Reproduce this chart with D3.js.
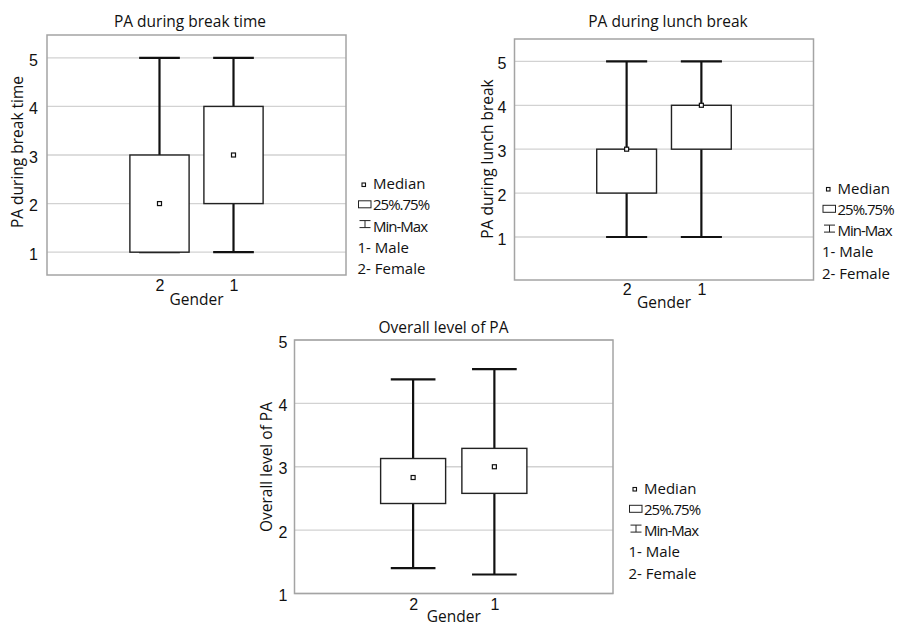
<!DOCTYPE html>
<html>
<head>
<meta charset="utf-8">
<script src="https://d3js.org/d3.v7.min.js"></script>
<style>
    body { margin: 0; background: #fff; }
    svg { display: block; font-family: "Open Sans", sans-serif; }
</style>
</head>
<body>
<div id="chart"></div>
<script>
// groups on the x axis (2 = Female, 1 = Male)
const groups = ["2", "1"];
// [min, q1, median, q3, max] per group
const breakTime = [[1, 1, 2, 3, 5], [1, 2, 3, 4, 5]];
const lunchBreak = [[1, 2, 3, 3, 5], [1, 3, 4, 4, 5]];
const overallPA = [[1.40, 2.42, 2.83, 3.13, 4.38], [1.30, 2.58, 3.00, 3.29, 4.54]];
const yTicks = [1, 2, 3, 4, 5];
const legendLabels = ["Median", "25%.75%", "Min-Max", "1- Male", "2- Female"];

const textColor = "#111";

class BoxPlotPanel {

    constructor(svg, stats, opts) {
        this.svg = svg;
        this.stats = stats;
        this.opts = opts;
        this.initVis();
    }

    initVis() {
        let vis = this;
        let o = vis.opts;

        vis.g = vis.svg.append("g")
            .attr("transform", "translate(" + o.left + "," + o.top + ")");

        // scales
        vis.x = d3.scalePoint()
            .domain(groups)
            .range([0, o.width])
            .padding(o.xPadding);

        vis.y = d3.scaleLinear()
            .domain(o.yDomain)
            .range([o.height, 0]);

        // gridlines
        vis.g.selectAll(".grid")
            .data(yTicks)
            .enter().append("line")
            .attr("class", "grid")
            .attr("x1", 0)
            .attr("x2", o.width)
            .attr("y1", d => vis.y(d))
            .attr("y2", d => vis.y(d))
            .attr("stroke", "#d2d2d2")
            .attr("stroke-width", 1.3);

        // frame
        vis.g.append("rect")
            .attr("width", o.width)
            .attr("height", o.height)
            .attr("fill", "none")
            .attr("stroke", "#a4a4a4")
            .attr("stroke-width", 1.5);

        // axes
        let yAxis = d3.axisLeft(vis.y)
            .tickValues(yTicks)
            .tickSize(0)
            .tickPadding(o.yPad)
            .tickFormat(d3.format("d"));
        vis.g.append("g").call(yAxis)
            .call(g => g.select(".domain").remove())
            .selectAll("text")
            .attr("dy", "0.45em")
            .attr("font-size", 16)
            .attr("fill", textColor);

        let xAxis = d3.axisBottom(vis.x)
            .tickSize(0)
            .tickPadding(o.xPad);
        vis.g.append("g")
            .attr("transform", "translate(0," + o.height + ")")
            .call(xAxis)
            .call(g => g.select(".domain").remove())
            .selectAll("text")
            .attr("font-size", 16)
            .attr("fill", textColor);

        vis.step = vis.x.step();
        vis.boxW = vis.step * 0.8;
        vis.capW = vis.step * 0.55;

        vis.updateVis();
        vis.drawLabels();
    }

    updateVis() {
        let vis = this;

        let items = vis.g.selectAll(".item")
            .data(vis.stats)
            .enter().append("g")
            .attr("class", "item")
            .attr("transform", (d, i) => "translate(" + vis.x(groups[i]) + ",0)");

        // whiskers
        items.append("line")
            .attr("y1", d => vis.y(d[0]))
            .attr("y2", d => vis.y(d[4]))
            .attr("stroke", "#111")
            .attr("stroke-width", 2.2);

        // caps
        [0, 4].forEach(k => {
            items.append("line")
                .attr("x1", -vis.capW / 2)
                .attr("x2", vis.capW / 2)
                .attr("y1", d => vis.y(d[k]))
                .attr("y2", d => vis.y(d[k]))
                .attr("stroke", "#111")
                .attr("stroke-width", 2.2);
        });

        // 25%-75% box
        items.append("rect")
            .attr("x", -vis.boxW / 2)
            .attr("width", vis.boxW)
            .attr("y", d => vis.y(d[3]))
            .attr("height", d => vis.y(d[1]) - vis.y(d[3]))
            .attr("fill", "#fff")
            .attr("stroke", "#222")
            .attr("stroke-width", 1.4);

        // median marker
        items.append("rect")
            .attr("x", -2)
            .attr("y", d => vis.y(d[2]) - 2)
            .attr("width", 4)
            .attr("height", 4)
            .attr("fill", "#fff")
            .attr("stroke", "#111")
            .attr("stroke-width", 1.2);
    }

    drawLabels() {
        let vis = this;
        let o = vis.opts;

        vis.svg.append("text")
            .attr("x", o.titleX)
            .attr("y", o.titleY)
            .attr("text-anchor", "middle")
            .attr("font-size", 15.5)
            .attr("fill", textColor)
            .text(o.title);

        vis.svg.append("text")
            .attr("transform", "translate(" + o.yLabelX + "," + o.yLabelY + ") rotate(-90)")
            .attr("text-anchor", "middle")
            .attr("font-size", 15.5)
            .attr("fill", textColor)
            .text(o.title);

        vis.svg.append("text")
            .attr("x", o.left + o.width / 2)
            .attr("y", o.genderY)
            .attr("text-anchor", "middle")
            .attr("font-size", 15.5)
            .attr("fill", textColor)
            .text("Gender");

        // legend
        let lg = vis.svg.append("g")
            .attr("transform", "translate(" + o.legendX + "," + o.legendY + ")");
        let rowH = 21.3;

        lg.selectAll("text")
            .data(legendLabels)
            .enter().append("text")
            .attr("x", (d, i) => i < 3 ? 15.5 : 0)
            .attr("y", (d, i) => i * rowH)
            .attr("font-size", 15)
            .attr("letter-spacing", (d, i) => (i === 1 || i === 2) ? -1 : 0)
            .attr("fill", textColor)
            .text(d => d);

        // median symbol
        lg.append("rect")
            .attr("x", 4.5).attr("y", -6)
            .attr("width", 3.5).attr("height", 3.5)
            .attr("fill", "#fff").attr("stroke", "#111").attr("stroke-width", 1.1);

        // 25%-75% symbol
        lg.append("rect")
            .attr("x", 1).attr("y", rowH - 9.5)
            .attr("width", 12.5).attr("height", 7)
            .attr("fill", "#fff").attr("stroke", "#222").attr("stroke-width", 1);

        // min-max symbol
        let iy = 2 * rowH;
        lg.append("path")
            .attr("d", "M2," + (iy - 11) + "H13M7.5," + (iy - 11) + "V" + (iy - 4) + "M2," + (iy - 4) + "H13")
            .attr("fill", "none").attr("stroke", "#222").attr("stroke-width", 1);
    }
}

let svg = d3.select("#chart").append("svg")
    .attr("width", 900)
    .attr("height", 623);

new BoxPlotPanel(svg, breakTime, {
    title: "PA during break time",
    left: 47, top: 35, width: 299, height: 240,
    yDomain: [0.53, 5.47], xPadding: 1.52,
    yPad: 9, xPad: 5,
    titleX: 190, titleY: 27,
    yLabelX: 23, yLabelY: 152,
    genderY: 305,
    legendX: 357.5, legendY: 189
});

new BoxPlotPanel(svg, lunchBreak, {
    title: "PA during lunch break",
    left: 514.5, top: 39, width: 299, height: 241,
    yDomain: [0.02, 5.51], xPadding: 1.5,
    yPad: 8, xPad: 3.5,
    titleX: 668, titleY: 27,
    yLabelX: 493, yLabelY: 159,
    genderY: 308,
    legendX: 822, legendY: 193.5
});

new BoxPlotPanel(svg, overallPA, {
    title: "Overall level of PA",
    left: 294.5, top: 340, width: 318.5, height: 253.5,
    yDomain: [1, 5], xPadding: 1.46,
    yPad: 7, xPad: 5.5,
    titleX: 443.5, titleY: 333,
    yLabelX: 271.5, yLabelY: 467,
    genderY: 621.5,
    legendX: 628.5, legendY: 493.5
});
</script>
</body>
</html>
